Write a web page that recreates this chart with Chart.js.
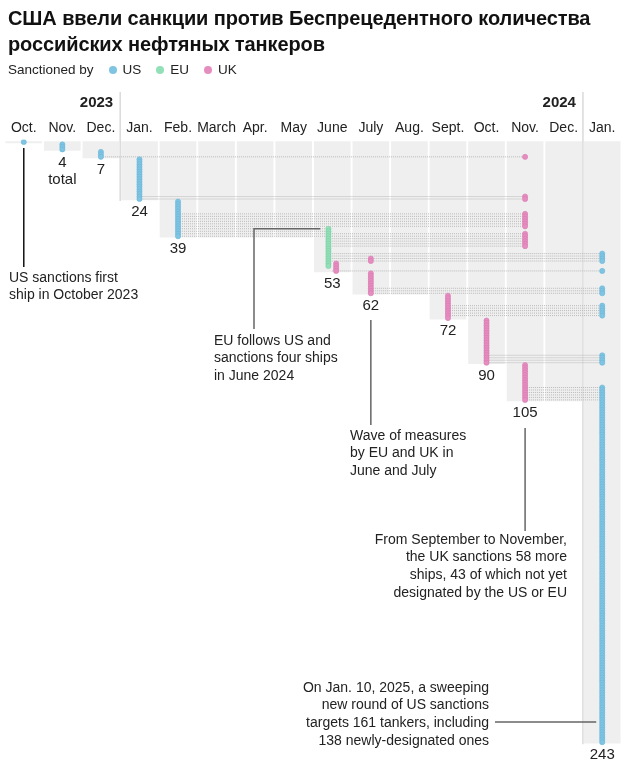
<!DOCTYPE html>
<html>
<head>
<meta charset="utf-8">
<script src="https://cdn.jsdelivr.net/npm/chart.js@4.4.1/dist/chart.umd.min.js"></script>
<style>
  body { margin: 0; background: #fff; font-family: "Liberation Sans", Arial, sans-serif; color: #111; }
  .wrap { position: relative; width: 626px; height: 775px; overflow: hidden; }
  #chart { position: absolute; left: 0; top: 0; }
  h1 { position: absolute; left: 8px; top: 5px; margin: 0; font-size: 20px; line-height: 26px; font-weight: bold; color: #111; letter-spacing: -0.1px; }
  .legend { position: absolute; left: 8px; top: 61px; font-size: 13.5px; line-height: 18px; color: #222; display: flex; align-items: center; }
  .legend .dot { display: inline-block; width: 8px; height: 8px; border-radius: 50%; margin: 0 6px 0 15px; }
</style>
</head>
<body>
<div class="wrap">
  <canvas id="chart" width="626" height="775"></canvas>
  <h1>США ввели санкции против Беспрецедентного количества<br>российских нефтяных танкеров</h1>
  <div class="legend">
    <span>Sanctioned by</span>
    <span class="dot" style="background:#7fc4e2"></span><span>US</span>
    <span class="dot" style="background:#93dfb8"></span><span>EU</span>
    <span class="dot" style="background:#e68dc0"></span><span>UK</span>
  </div>
</div>
<script>
const months = ['Oct.', 'Nov.', 'Dec.', 'Jan.', 'Feb.', 'March', 'Apr.', 'May', 'June', 'July', 'Aug.', 'Sept.', 'Oct.', 'Nov.', 'Dec.', 'Jan.'];
const totals = [1, 4, 7, 24, 39, 39, 39, 39, 53, 62, 62, 72, 90, 105, 105, 243];
const totalLabels = ['', '4', '7', '24', '39', '', '', '', '53', '62', '', '72', '90', '105', '', '243'];
const years = ['2023', '2024'];
const yearLastMonth = [2, 14];

// [month index, first ship, last ship]
const usRanges = [[0, 1, 1], [1, 2, 4], [2, 5, 7], [3, 8, 24], [4, 25, 39], [15, 46, 49], [15, 53, 53], [15, 60, 62], [15, 67, 71], [15, 87, 90], [15, 100, 243]];
const euRanges = [[8, 36, 51]];
const ukRanges = [[8, 50, 53], [9, 48, 49], [9, 54, 62], [11, 63, 72], [12, 73, 90], [13, 7, 7], [13, 23, 24], [13, 30, 35], [13, 38, 43], [13, 91, 105]];

const groups = [
    { label: 'US', ranges: usRanges, color: '#7fc4e2', edge: '#64b3d6' },
    { label: 'EU', ranges: euRanges, color: '#93dfb8', edge: '#72cc9f' },
    { label: 'UK', ranges: ukRanges, color: '#e68dc0', edge: '#d672ac' }
];

// who acts in each month, so two sanctioners in one month sit side by side
const actors = months.map((m, i) => groups.filter(g => g.ranges.some(r => r[0] === i)).map(g => g.label));
const shipMonths = {};

const dotSets = groups.map(g => {
    const pts = [];
    g.ranges.forEach(([m, a, b]) => {
        const list = actors[m];
        const off = list.length > 1 ? (list.indexOf(g.label) - (list.length - 1) / 2) * 0.2 : 0;
        for (let s = a; s <= b; s++) {
            pts.push({ x: m + off, y: s });
            (shipMonths[s] = shipMonths[s] || []).push(m);
        }
    });
    return {
        type: 'scatter', label: g.label, data: pts,
        backgroundColor: g.color, borderColor: g.edge, borderWidth: 0.5,
        pointRadius: 2.6, order: 1
    };
});

// dotted trail from a ship's first designation to its last
const trail = [];
Object.keys(shipMonths).forEach(s => {
    const ms = shipMonths[s];
    const a = Math.min(...ms), b = Math.max(...ms);
    if (b > a) trail.push({ x: a, y: +s }, { x: b, y: +s }, { x: b, y: null });
});

const notes = [
    { lines: ['US sanctions first', 'ship in October 2023'], x: 9, y: 278, align: 'left' },
    { lines: ['EU follows US and', 'sanctions four ships', 'in June 2024'], x: 214, y: 341, align: 'left' },
    { lines: ['Wave of measures', 'by EU and UK in', 'June and July'], x: 350, y: 436, align: 'left' },
    { lines: ['From September to November,', 'the UK sanctions 58 more', 'ships, 43 of which not yet', 'designated by the US or EU'], x: 567, y: 540, align: 'right' },
    { lines: ['On Jan. 10, 2025, a sweeping', 'new round of US sanctions', 'targets 161 tankers, including', '138 newly-designated ones'], x: 489, y: 688, align: 'right' }
];

const FONT = '"Liberation Sans", Arial, sans-serif';

const decor = {
    id: 'decor',
    beforeDatasetsDraw(chart) {
        const { ctx, scales: { x, y } } = chart;
        ctx.save();
        ctx.strokeStyle = '#dadada';
        ctx.lineWidth = 1.5;
        yearLastMonth.forEach(m => {
            const px = x.getPixelForValue(m + 0.5);
            ctx.beginPath();
            ctx.moveTo(px, 92);
            ctx.lineTo(px, y.getPixelForValue(totals[m + 1]) + 2);
            ctx.stroke();
        });
        ctx.restore();
    },
    afterDraw(chart) {
        const { ctx, scales: { x, y } } = chart;
        ctx.save();
        ctx.fillStyle = '#222';
        ctx.textBaseline = 'middle';

        ctx.font = '14px ' + FONT;
        ctx.textAlign = 'center';
        months.forEach((m, i) => ctx.fillText(m, x.getPixelForValue(i), 128));

        ctx.font = 'bold 15px ' + FONT;
        ctx.textAlign = 'right';
        years.forEach((t, k) => ctx.fillText(t, x.getPixelForValue(yearLastMonth[k] + 0.5) - 7, 103));

        ctx.font = '15px ' + FONT;
        ctx.textAlign = 'center';
        totalLabels.forEach((t, i) => {
            if (!t) return;
            const py = y.getPixelForValue(totals[i]) + 13;
            ctx.fillText(t, x.getPixelForValue(i), py);
            if (i === 1) ctx.fillText('total', x.getPixelForValue(i), py + 17);
        });

        ctx.font = '14px ' + FONT;
        notes.forEach(n => {
            ctx.textAlign = n.align;
            n.lines.forEach((l, k) => ctx.fillText(l, n.x, n.y + k * 17.6));
        });

        // connector lines
        ctx.lineWidth = 1.5;
        ctx.strokeStyle = '#111';
        ctx.beginPath();
        ctx.moveTo(x.getPixelForValue(0), y.getPixelForValue(1) + 6);
        ctx.lineTo(x.getPixelForValue(0), 267);
        ctx.stroke();

        ctx.strokeStyle = '#666';
        ctx.beginPath();
        ctx.moveTo(x.getPixelForValue(8) - 12, y.getPixelForValue(36));
        ctx.lineTo(254, y.getPixelForValue(36));
        ctx.lineTo(254, 329);
        ctx.moveTo(x.getPixelForValue(9), 320);
        ctx.lineTo(x.getPixelForValue(9), 425);
        ctx.moveTo(x.getPixelForValue(13), 428);
        ctx.lineTo(x.getPixelForValue(13), 531);
        ctx.moveTo(495, 722);
        ctx.lineTo(x.getPixelForValue(15) - 6, 722);
        ctx.stroke();
        ctx.restore();
    }
};

new Chart(document.getElementById('chart'), {
    type: 'scatter',
    data: {
        datasets: [
            ...dotSets,
            {
                type: 'line', label: 'trail', data: trail,
                borderColor: '#b9b9b9', borderWidth: 1, borderDash: [1, 1],
                pointRadius: 0, spanGaps: false, tension: 0, order: 2
            },
            {
                type: 'bar', label: 'months',
                data: totals.map((t, i) => ({ x: i, y: [0.8, t + 0.4] })),
                backgroundColor: '#efefef', borderWidth: 0,
                barThickness: 36, order: 3
            }
        ]
    },
    options: {
        responsive: false,
        animation: false,
        events: [],
        layout: { padding: { top: 139.5, left: 2.5, right: 0, bottom: 15.5 } },
        plugins: { legend: { display: false }, tooltip: { enabled: false } },
        scales: {
            x: { type: 'linear', min: -0.5, max: 15.5, offset: false, display: false },
            y: { type: 'linear', min: 0, max: 250, reverse: true, display: false }
        }
    },
    plugins: [decor]
});
</script>
</body>
</html>
